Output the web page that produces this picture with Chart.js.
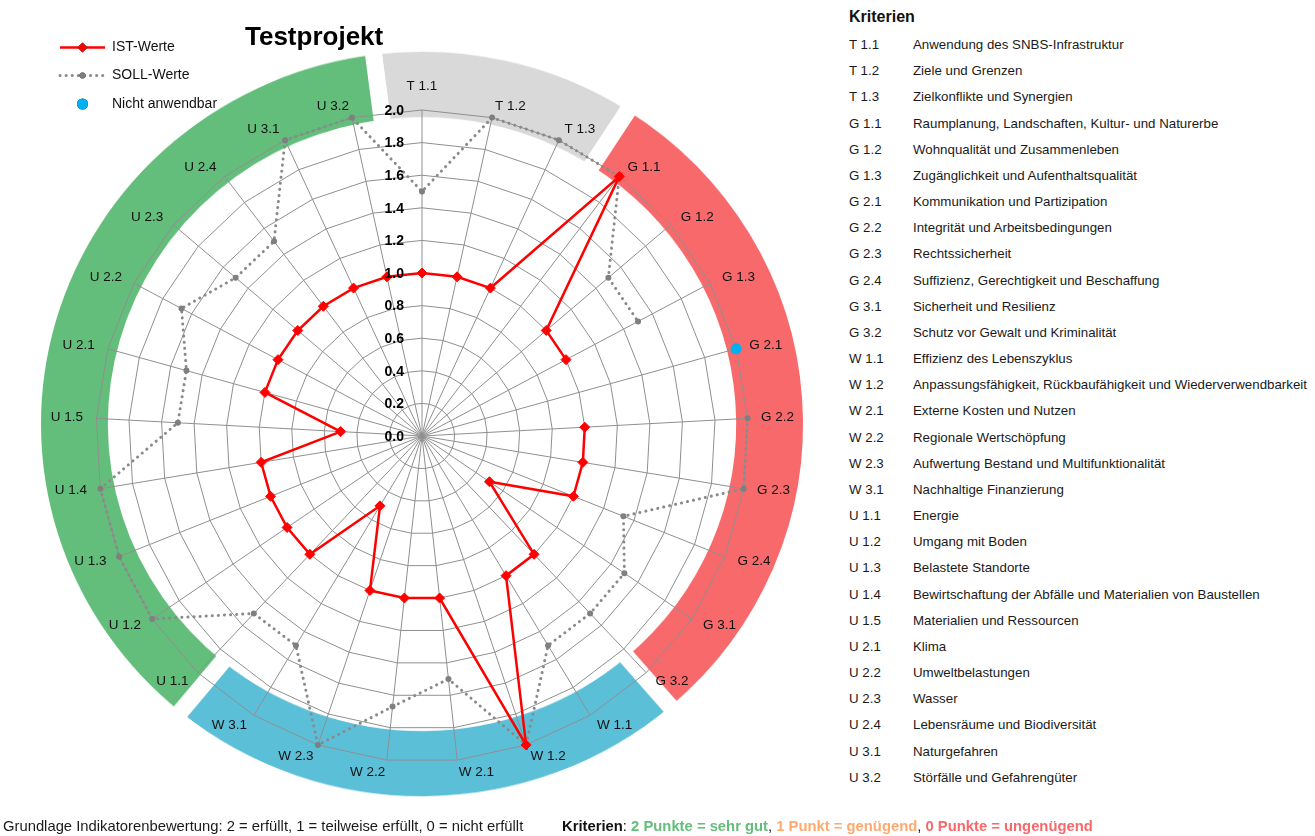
<!DOCTYPE html>
<html>
<head>
<meta charset="utf-8">
<script src="https://cdn.jsdelivr.net/npm/chart.js@4.4.1/dist/chart.umd.min.js"></script>
<style>
  html, body { margin:0; padding:0; width:1315px; height:836px; overflow:hidden; background:#ffffff; }
  body { position:relative; font-family:"Liberation Sans", Arial, sans-serif; color:#111; }
  #ring { position:absolute; left:0; top:0; transform:scaleY(0.977); transform-origin:422px 424px; }
  #radar { position:absolute; left:0; top:0; }
  #crit { position:absolute; left:0; top:0; }
  .hd { position:absolute; left:849px; top:7px; font-size:16px; line-height:20px; font-weight:bold; color:#111; white-space:nowrap; }
  .code, .desc { position:absolute; font-size:13.3px; line-height:16px; white-space:nowrap; color:#1a1a1a; }
  .code { left:849px; }
  .desc { left:913px; }
  .note { position:absolute; top:817px; font-size:14.8px; line-height:18px; white-space:nowrap; color:#1a1a1a; }
  .b { font-weight:bold; }
</style>
</head>
<body>
<canvas id="ring" width="844" height="848"></canvas>
<canvas id="radar" width="844" height="836"></canvas>
<div id="crit"></div>
<div class="note" style="left:3px;">Grundlage Indikatorenbewertung: 2 = erfüllt, 1 = teilweise erfüllt, 0 = nicht erfüllt</div>
<div class="note b" style="left:562px;"><span style="color:#111">Kriterien</span><span style="color:#111;font-weight:normal">: </span><span style="color:#63be7b">2 Punkte = sehr gut</span><span style="color:#111;font-weight:normal">, </span><span style="color:#ffa96e">1 Punkt = genügend</span><span style="color:#111;font-weight:normal">, </span><span style="color:#f8696b">0 Punkte = ungenügend</span></div>
<script>
// ---------- data ----------
const categories = ['T 1.1','T 1.2','T 1.3','G 1.1','G 1.2','G 1.3','G 2.1','G 2.2','G 2.3','G 2.4','G 3.1','G 3.2',
  'W 1.1','W 1.2','W 2.1','W 2.2','W 2.3','W 3.1','U 1.1','U 1.2','U 1.3','U 1.4','U 1.5','U 2.1','U 2.2','U 2.3','U 2.4','U 3.1','U 3.2'];
const descriptions = [
  'Anwendung des SNBS-Infrastruktur','Ziele und Grenzen','Zielkonflikte und Synergien',
  'Raumplanung, Landschaften, Kultur- und Naturerbe','Wohnqualität und Zusammenleben','Zugänglichkeit und Aufenthaltsqualität',
  'Kommunikation und Partizipation','Integrität und Arbeitsbedingungen','Rechtssicherheit',
  'Suffizienz, Gerechtigkeit und Beschaffung','Sicherheit und Resilienz','Schutz vor Gewalt und Kriminalität',
  'Effizienz des Lebenszyklus','Anpassungsfähigkeit, Rückbaufähigkeit und Wiederverwendbarkeit','Externe Kosten und Nutzen',
  'Regionale Wertschöpfung','Aufwertung Bestand und Multifunktionalität','Nachhaltige Finanzierung',
  'Energie','Umgang mit Boden','Belastete Standorte','Bewirtschaftung der Abfälle und Materialien von Baustellen',
  'Materialien und Ressourcen','Klima','Umweltbelastungen','Wasser','Lebensräume und Biodiversität',
  'Naturgefahren','Störfälle und Gefahrengüter'];
const istWerte  = [1, 1, 1, 2, 1, 1, null, 1, 1, 1, 0.5, 1, 1, 2, 1, 1, 1, 0.5, 1, 1, 1, 1, 0.5, 1, 1, 1, 1, 1, 1];
const sollWerte = [1.5, 2, 2, 2, 1.5, 1.5, null, 2, 2, 1.33, 1.5, 1.5, 1.5, 2, 1.5, 1.67, 2, 1.5, 1.5, 2, 2, 2, 1.5, 1.5, 1.67, 1.5, 1.5, 2, 2];
const nichtAnwendbar = [null, null, null, null, null, null, 2, null, null, null, null, null, null, null, null,
  null, null, null, null, null, null, null, null, null, null, null, null, null, null];
const scaleMin = 0, scaleMax = 2, scaleStep = 0.2;
const ringGroups  = ['T', 'G', 'W', 'U'];
const ringWeights = [3, 8, 6, 10];
const ringColors  = ['#d9d9d9', '#f8696b', '#5bbfd8', '#63be7b'];
const seriesNames = ['IST-Werte', 'SOLL-Werte', 'Nicht anwendbar'];
const chartTitle = 'Testprojekt';

// ---------- criteria list (HTML text) ----------
(function () {
  const box = document.getElementById('crit');
  const hd = document.createElement('div'); hd.className = 'hd'; hd.textContent = 'Kriterien'; box.appendChild(hd);
  categories.forEach((c, i) => {
    const top = 45 + i * 26.17 - 8;
    const a = document.createElement('div'); a.className = 'code'; a.style.top = top + 'px'; a.textContent = c; box.appendChild(a);
    const b = document.createElement('div'); b.className = 'desc'; b.style.top = top + 'px'; b.textContent = descriptions[i]; box.appendChild(b);
  });
})();

// ---------- ring (doughnut) ----------
new Chart(document.getElementById('ring'), {
  type: 'doughnut',
  data: { labels: ringGroups, datasets: [{ data: ringWeights, backgroundColor: ringColors,
    borderColor: '#ffffff', borderWidth: 17, borderAlign: 'center', borderJoinStyle: 'miter', hoverOffset: 0 }] },
  options: { responsive: false, animation: false, devicePixelRatio: 1, events: [],
    rotation: -7.3, radius: 389.5, cutout: 324.5,
    plugins: { legend: { display: false }, tooltip: { enabled: false } } }
});

// ---------- radar ----------
const FONT = '"Liberation Sans", Arial, sans-serif';
const decorPlugin = {
  id: 'decor',
  afterDatasetsDraw(chart) {
    const ctx = chart.ctx, s = chart.scales.r;
    ctx.save();
    // tick labels
    ctx.font = 'bold 14px ' + FONT; ctx.fillStyle = '#000'; ctx.textAlign = 'right'; ctx.textBaseline = 'middle';
    s.ticks.forEach(t => {
      const d = s.getDistanceFromCenterForValue(t.value);
      ctx.fillText(t.value.toFixed(1), s.xCenter - 18, s.yCenter - d + 1);
    });
    // point labels
    ctx.font = '13.5px ' + FONT; ctx.fillStyle = '#111';
    chart.data.labels.forEach((lab, i) => {
      const a = s.getIndexAngle(i);
      const p = s.getPointPosition(i, s.drawingArea);
      const sn = Math.sin(a), cs = Math.cos(a);
      let x, y;
      if (Math.abs(sn) < 0.01) { ctx.textAlign = 'center'; x = p.x; y = p.y - 24 * Math.sign(cs); }
      else { ctx.textAlign = sn > 0 ? 'left' : 'right'; x = p.x + 13.5 * sn; y = p.y - 12 * cs; }
      ctx.fillText(lab, x, y);
    });
    // title
    ctx.font = 'bold 26px ' + FONT; ctx.textAlign = 'left'; ctx.textBaseline = 'alphabetic'; ctx.fillStyle = '#000';
    ctx.fillText(chartTitle, 245, 45);
    // legend
    const ds = chart.data.datasets;
    const rows = [47.5, 75.5, 104];
    ctx.font = '14px ' + FONT; ctx.textBaseline = 'middle'; ctx.fillStyle = '#111';
    ds.forEach((d, k) => {
      const y = rows[k];
      ctx.save();
      if (d.showLine !== false) {
        ctx.strokeStyle = d.borderColor; ctx.lineWidth = d.borderWidth;
        ctx.setLineDash(d.borderDash || []); ctx.lineCap = d.borderCapStyle || 'butt';
        ctx.beginPath(); ctx.moveTo(60, y); ctx.lineTo(105, y); ctx.stroke();
      }
      ctx.setLineDash([]);
      Chart.helpers.drawPoint(ctx, { pointStyle: d.pointStyle || 'circle', radius: d.pointRadius, borderWidth: 0 }, 82.5, y);
      ctx.fillStyle = d.pointBackgroundColor; ctx.fill();
      ctx.restore();
      ctx.fillStyle = '#111'; ctx.textAlign = 'left';
      ctx.fillText(d.label, 112, y);
    });
    ctx.restore();
  }
};

new Chart(document.getElementById('radar'), {
  type: 'radar',
  data: {
    labels: categories,
    datasets: [
      { label: seriesNames[0], data: istWerte, borderColor: '#ff0000', backgroundColor: '#ff0000', borderWidth: 2.5,
        pointStyle: 'rectRot', pointRadius: 5, pointBackgroundColor: '#ff0000', pointBorderColor: '#ff0000', pointBorderWidth: 1,
        fill: false, spanGaps: false, tension: 0 },
      { label: seriesNames[1], data: sollWerte, borderColor: '#8a8a8a', backgroundColor: '#8a8a8a', borderWidth: 3,
        borderDash: [0.1, 6], borderCapStyle: 'round', pointStyle: 'circle', pointRadius: 3,
        pointBackgroundColor: '#7f7f7f', pointBorderWidth: 0, fill: false, spanGaps: false, tension: 0 },
      { label: seriesNames[2], data: nichtAnwendbar, showLine: false, borderWidth: 0, borderColor: 'rgba(0,0,0,0)',
        pointStyle: 'circle', pointRadius: 5.5, pointBackgroundColor: '#00b0f0', pointBorderWidth: 0, fill: false }
    ]
  },
  options: {
    responsive: false, animation: false, devicePixelRatio: 1, events: [],
    layout: { padding: { left: 96, right: 96, top: 110, bottom: 74 } },
    scales: { r: { min: scaleMin, max: scaleMax, beginAtZero: true,
      ticks: { stepSize: scaleStep, display: false },
      pointLabels: { display: false },
      grid: { color: '#8f8f8f', lineWidth: 1 },
      angleLines: { color: '#8f8f8f', lineWidth: 1 } } },
    plugins: { legend: { display: false }, tooltip: { enabled: false }, title: { display: false } }
  },
  plugins: [decorPlugin]
});
</script>
</body>
</html>
